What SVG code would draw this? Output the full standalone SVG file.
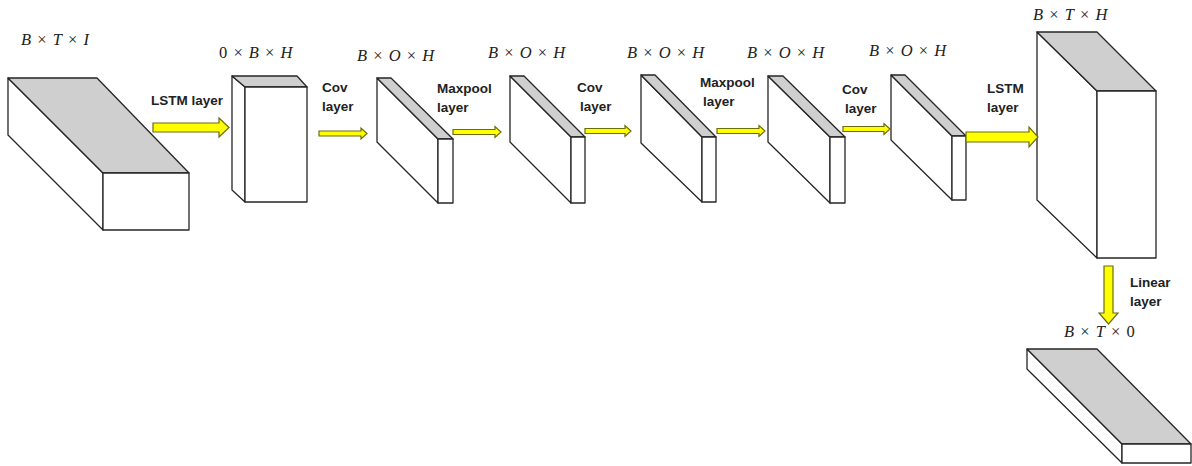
<svg xmlns="http://www.w3.org/2000/svg" width="1192" height="466" viewBox="0 0 1192 466">
  <style>
    .side { fill: #ffffff; stroke: #262626; stroke-width: 1.3; stroke-linejoin: round; }
    .top { fill: #cfcfcf; stroke: #262626; stroke-width: 1.3; stroke-linejoin: round; }
    .arrow { fill: #ffff00; stroke: #6b6b10; stroke-width: 1.2; stroke-linejoin: miter; }
    .dim { font-family: "Liberation Serif", "DejaVu Serif", serif; font-size: 16.5px; word-spacing: 2px; fill: #222222; }
    .dim .v { font-style: italic; }
    .lbl { font-family: "Liberation Sans", Arial, sans-serif; font-weight: bold; font-size: 13.5px; fill: #222222; }
  </style>
  <rect width="1192" height="466" fill="#ffffff"/>

  <!-- input tensor -->
  <g id="input">
    <polygon class="side" points="8,78 103,173 103,230 8,135"/>
    <polygon class="top" points="8,78 97,78 189,173 103,173"/>
    <rect class="side" x="103" y="173" width="86" height="57"/>
    <text class="dim" x="21" y="45"><tspan class="v">B</tspan> × <tspan class="v">T</tspan> × <tspan class="v">I</tspan></text>
  </g>

  <g id="lstm1">
    <polygon class="side" points="232,76 245,87 245,202 232,190"/>
    <polygon class="top" points="232,76 297,76 307,87 245,87"/>
    <rect class="side" x="245" y="87" width="62" height="115"/>
    <text class="dim" x="219" y="58">0 × <tspan class="v">B</tspan> × <tspan class="v">H</tspan></text>
  </g>

  <g id="conv1">
    <polygon class="side" points="377,78 438,139 438,203 377,142"/>
    <polygon class="top" points="377,78 391,78 453,139 438,139"/>
    <rect class="side" x="438" y="139" width="15" height="64"/>
    <text class="dim" x="357" y="61"><tspan class="v">B</tspan> × <tspan class="v">O</tspan> × <tspan class="v">H</tspan></text>
  </g>

  <g id="pool1">
    <polygon class="side" points="510,76 571,137 571,203 510,142"/>
    <polygon class="top" points="510,76 524,76 585,137 571,137"/>
    <rect class="side" x="571" y="137" width="14" height="66"/>
    <text class="dim" x="488" y="58"><tspan class="v">B</tspan> × <tspan class="v">O</tspan> × <tspan class="v">H</tspan></text>
  </g>

  <g id="conv2">
    <polygon class="side" points="641,75 702,137 702,202 641,143"/>
    <polygon class="top" points="641,75 655,75 716,137 702,137"/>
    <rect class="side" x="702" y="137" width="14" height="65"/>
    <text class="dim" x="627" y="58"><tspan class="v">B</tspan> × <tspan class="v">O</tspan> × <tspan class="v">H</tspan></text>
  </g>

  <g id="pool2">
    <polygon class="side" points="768,76 830,137 830,203 768,142"/>
    <polygon class="top" points="768,76 783,76 845,137 830,137"/>
    <rect class="side" x="830" y="137" width="15" height="66"/>
    <text class="dim" x="747" y="58"><tspan class="v">B</tspan> × <tspan class="v">O</tspan> × <tspan class="v">H</tspan></text>
  </g>

  <g id="conv3">
    <polygon class="side" points="891,75 952,136 952,200 891,140"/>
    <polygon class="top" points="891,75 905,75 966,136 952,136"/>
    <rect class="side" x="952" y="136" width="14" height="64"/>
    <text class="dim" x="869" y="56"><tspan class="v">B</tspan> × <tspan class="v">O</tspan> × <tspan class="v">H</tspan></text>
  </g>

  <g id="lstm2">
    <polygon class="side" points="1037,32 1097,91 1097,258 1037,200"/>
    <polygon class="top" points="1037,32 1097,32 1156,91 1097,91"/>
    <rect class="side" x="1097" y="91" width="59" height="167"/>
    <text class="dim" x="1033" y="20"><tspan class="v">B</tspan> × <tspan class="v">T</tspan> × <tspan class="v">H</tspan></text>
  </g>

  <g id="output">
    <polygon class="side" points="1027,349 1122,444 1122,463 1027,369"/>
    <polygon class="top" points="1027,349 1097,349 1191,444 1122,444"/>
    <rect class="side" x="1122" y="444" width="69" height="19"/>
    <text class="dim" x="1064" y="337"><tspan class="v">B</tspan> × <tspan class="v">T</tspan> × 0</text>
  </g>

  <!-- layer arrows -->
  <g id="connectors">
    <polygon class="arrow" points="153,123 219,123 219,118 229,127.5 219,137 219,132 153,132"/>
    <polygon class="arrow" points="319,131 361,131 361,128 367,133.5 361,139 361,136 319,136"/>
    <polygon class="arrow" points="453,129.5 495,129.5 495,126.5 501,132 495,137.5 495,134.5 453,134.5"/>
    <polygon class="arrow" points="585,128.5 625,128.5 625,125.5 631,131 625,136.5 625,133.5 585,133.5"/>
    <polygon class="arrow" points="717,128.5 759,128.5 759,125.5 765,131 759,136.5 759,133.5 717,133.5"/>
    <polygon class="arrow" points="843,126.5 884,126.5 884,123.5 890,129 884,134.5 884,131.5 843,131.5"/>
    <polygon class="arrow" points="966,132 1029,132 1029,127 1038,137 1029,147 1029,142 966,142"/>
    <polygon class="arrow" points="1104,266 1113,266 1113,313 1118,313 1108.5,324 1099,313 1104,313"/>
  </g>

  <!-- layer labels -->
  <g id="labels">
    <text class="lbl" x="151" y="105">LSTM layer</text>
    <text class="lbl" x="322" y="92">Cov</text>
    <text class="lbl" x="322" y="111">layer</text>
    <text class="lbl" x="437" y="93">Maxpool</text>
    <text class="lbl" x="437" y="112">layer</text>
    <text class="lbl" x="577" y="92">Cov</text>
    <text class="lbl" x="580" y="111">layer</text>
    <text class="lbl" x="700" y="87">Maxpool</text>
    <text class="lbl" x="703" y="106">layer</text>
    <text class="lbl" x="842" y="94">Cov</text>
    <text class="lbl" x="845" y="113">layer</text>
    <text class="lbl" x="987" y="93">LSTM</text>
    <text class="lbl" x="987" y="112">layer</text>
    <text class="lbl" x="1130" y="287">Linear</text>
    <text class="lbl" x="1130" y="306">layer</text>
  </g>
</svg>
